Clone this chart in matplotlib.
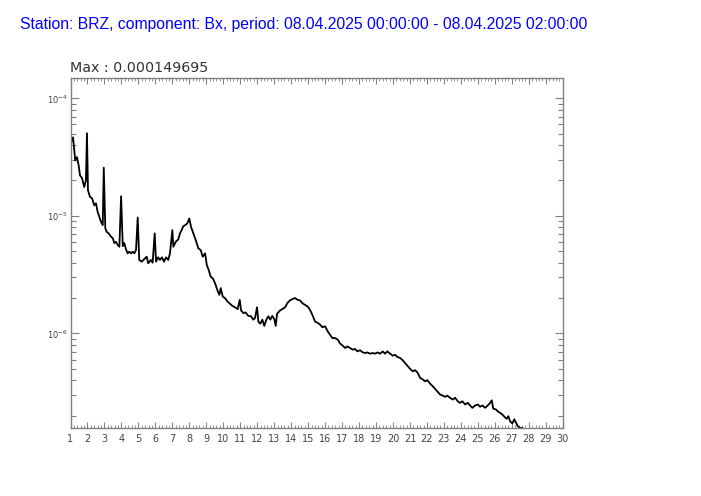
import matplotlib
matplotlib.use("Agg")
import matplotlib.pyplot as plt
from matplotlib.ticker import MultipleLocator, LogLocator, NullFormatter, FixedLocator
import numpy as np

title = "Station: BRZ, component: Bx, period: 08.04.2025 00:00:00 - 08.04.2025 02:00:00"
max_label = "Max : 0.000149695"
y_max = 1.49695e-4
y_min = 1.57e-7

freq = [1.00, 1.03, 1.09, 1.15, 1.21, 1.28, 1.38, 1.48, 1.56, 1.68, 1.81, 1.91, 1.97, 2.03, 2.15,
        2.27, 2.40, 2.50, 2.60, 2.70, 2.80, 2.90, 2.96, 3.05, 3.13, 3.25, 3.39, 3.49, 3.58, 3.68,
        3.78, 3.88, 3.98, 4.08, 4.17, 4.27, 4.37, 4.46, 4.57, 4.67, 4.76, 4.86, 4.96, 5.05, 5.20,
        5.33, 5.49, 5.58, 5.73, 5.84, 5.96, 6.04, 6.16, 6.27, 6.39, 6.51, 6.63, 6.76, 6.86, 7.00,
        7.06, 7.20, 7.35, 7.45, 7.55, 7.65, 7.76, 7.88, 8.00, 8.10, 8.24, 8.38, 8.53, 8.67, 8.79,
        8.93, 9.03, 9.14, 9.26, 9.38, 9.52, 9.65, 9.77, 9.85, 9.97, 10.10, 10.25, 10.40, 10.53, 10.69,
        10.85, 10.97, 11.05, 11.18, 11.32, 11.48, 11.64, 11.77, 11.87, 11.99, 12.07, 12.18, 12.30, 12.42, 12.54,
        12.66, 12.77, 12.89, 13.01, 13.09, 13.17, 13.35, 13.48, 13.64, 13.80, 13.93, 14.07, 14.23, 14.39, 14.52,
        14.66, 14.82, 14.98, 15.11, 15.25, 15.41, 15.57, 15.70, 15.84, 16.00, 16.16, 16.29, 16.43, 16.59, 16.75,
        16.88, 17.04, 17.18, 17.31, 17.47, 17.63, 17.77, 17.90, 18.06, 18.22, 18.35, 18.49, 18.65, 18.81, 18.94,
        19.08, 19.24, 19.40, 19.53, 19.67, 19.83, 19.99, 20.12, 20.26, 20.42, 20.58, 20.71, 20.85, 21.01, 21.17,
        21.30, 21.44, 21.60, 21.75, 21.89, 22.02, 22.18, 22.34, 22.48, 22.61, 22.77, 22.93, 23.07, 23.20, 23.36,
        23.52, 23.66, 23.82, 23.95, 24.09, 24.25, 24.41, 24.54, 24.68, 24.84, 25.00, 25.13, 25.27, 25.43, 25.58,
        25.70, 25.82, 25.91, 26.06, 26.17, 26.31, 26.44, 26.56, 26.70, 26.80, 26.90, 27.03, 27.15, 27.23, 27.35,
        27.49, 27.62, 27.72]

amplitude = [1.497e-4, 4.83e-5, 4.30e-5, 4.65e-5, 3.75e-5, 2.96e-5, 3.16e-5, 2.69e-5, 2.21e-5, 2.09e-5, 1.76e-5, 2.01e-5, 5.05e-5, 1.65e-5, 1.45e-5,
             1.41e-5, 1.23e-5, 1.28e-5, 1.08e-5, 9.8e-6, 8.89e-6, 8.34e-6, 2.57e-5, 7.87e-6, 7.31e-6, 7.10e-6, 6.64e-6, 6.47e-6, 5.87e-6, 6.02e-6,
             5.65e-6, 5.46e-6, 1.47e-5, 5.53e-6, 5.87e-6, 5.19e-6, 4.80e-6, 4.96e-6, 4.80e-6, 4.96e-6, 4.80e-6, 5.12e-6, 9.69e-6, 4.22e-6, 4.08e-6,
             4.27e-6, 4.50e-6, 3.95e-6, 4.22e-6, 4.00e-6, 7.10e-6, 4.08e-6, 4.44e-6, 4.22e-6, 4.44e-6, 4.08e-6, 4.44e-6, 4.22e-6, 4.80e-6, 7.57e-6,
             5.46e-6, 6.02e-6, 6.31e-6, 7.10e-6, 7.57e-6, 8.18e-6, 8.34e-6, 8.63e-6, 9.51e-6, 8.07e-6, 7.10e-6, 6.22e-6, 5.30e-6, 5.12e-6, 4.50e-6,
             4.80e-6, 3.82e-6, 3.47e-6, 3.04e-6, 2.95e-6, 2.67e-6, 2.34e-6, 2.13e-6, 2.43e-6, 2.06e-6, 2.00e-6, 1.87e-6, 1.79e-6, 1.72e-6, 1.67e-6,
             1.61e-6, 1.93e-6, 1.57e-6, 1.49e-6, 1.51e-6, 1.41e-6, 1.40e-6, 1.31e-6, 1.35e-6, 1.67e-6, 1.26e-6, 1.21e-6, 1.31e-6, 1.16e-6, 1.31e-6,
             1.40e-6, 1.31e-6, 1.41e-6, 1.32e-6, 1.16e-6, 1.47e-6, 1.57e-6, 1.61e-6, 1.67e-6, 1.83e-6, 1.91e-6, 1.96e-6, 2.00e-6, 1.93e-6, 1.91e-6,
             1.81e-6, 1.75e-6, 1.69e-6, 1.59e-6, 1.44e-6, 1.26e-6, 1.23e-6, 1.19e-6, 1.13e-6, 1.15e-6, 1.04e-6, 9.75e-7, 9.14e-7, 9.14e-7, 8.85e-7,
             8.22e-7, 7.87e-7, 7.52e-7, 7.76e-7, 7.52e-7, 7.28e-7, 7.38e-7, 7.04e-7, 7.20e-7, 6.90e-7, 6.82e-7, 6.90e-7, 6.73e-7, 6.82e-7, 6.73e-7,
             6.90e-7, 6.73e-7, 7.04e-7, 6.73e-7, 7.04e-7, 6.73e-7, 6.47e-7, 6.59e-7, 6.31e-7, 6.19e-7, 5.90e-7, 5.61e-7, 5.32e-7, 4.99e-7, 4.76e-7,
             4.87e-7, 4.67e-7, 4.19e-7, 4.06e-7, 3.92e-7, 4.01e-7, 3.75e-7, 3.56e-7, 3.38e-7, 3.22e-7, 3.03e-7, 2.96e-7, 2.89e-7, 2.96e-7, 2.84e-7,
             2.74e-7, 2.84e-7, 2.65e-7, 2.57e-7, 2.65e-7, 2.49e-7, 2.57e-7, 2.44e-7, 2.33e-7, 2.44e-7, 2.49e-7, 2.38e-7, 2.44e-7, 2.33e-7, 2.44e-7,
             2.54e-7, 2.70e-7, 2.29e-7, 2.26e-7, 2.18e-7, 2.11e-7, 2.05e-7, 1.96e-7, 1.88e-7, 1.98e-7, 1.79e-7, 1.72e-7, 1.86e-7, 1.76e-7, 1.63e-7,
             1.57e-7, 1.57e-7, 1.50e-7]

x_ticks = list(range(1, 31))
x_labels = [str(v) for v in x_ticks]

axis_gray = "#808080"

fig = plt.figure(figsize=(7.01, 4.96), dpi=100)
ax = fig.add_axes([70.5 / 701, 1 - 428 / 496, (562.7 - 70.5) / 701, (428 - 77.7) / 496])

ax.plot(freq, amplitude, color="black", linewidth=1.3, clip_on=True)
ax.set_yscale("log")
ax.set_xlim(1, 30)
ax.set_ylim(y_min, y_max)

for s in ax.spines.values():
    s.set_color(axis_gray)
    s.set_linewidth(1.0)

ax.xaxis.set_major_locator(FixedLocator(x_ticks))
ax.set_xticklabels(x_labels)
ax.xaxis.set_minor_locator(MultipleLocator(0.2))
ax.yaxis.set_major_locator(LogLocator(base=10, numticks=10))
ax.yaxis.set_minor_locator(LogLocator(base=10, subs=np.arange(2, 10), numticks=20))
ax.yaxis.set_minor_formatter(NullFormatter())

ax.tick_params(axis="x", which="major", direction="in", length=4.5, width=0.8, color=axis_gray,
               top=True, bottom=True, labelsize=7, labelcolor="#444444", pad=4)
ax.tick_params(axis="x", which="minor", direction="in", length=2.2, width=0.6, color=axis_gray,
               top=True, bottom=True)
ax.tick_params(axis="y", which="major", direction="in", length=6, width=0.8, color=axis_gray,
               left=True, right=True, labelsize=6, labelcolor="#444444", pad=2)
ax.tick_params(axis="y", which="minor", direction="in", length=3.6, width=0.8, color=axis_gray,
               left=True, right=True)

fig.text(20 / 701, 1 - 25 / 496, title, color="blue", fontsize=11.3,
         family="Liberation Sans", ha="left", va="center")
fig.text(70 / 701, 1 - 68 / 496, max_label, color="#333333", fontsize=10.3,
         ha="left", va="center")

fig.savefig("out.png", dpi=100)
